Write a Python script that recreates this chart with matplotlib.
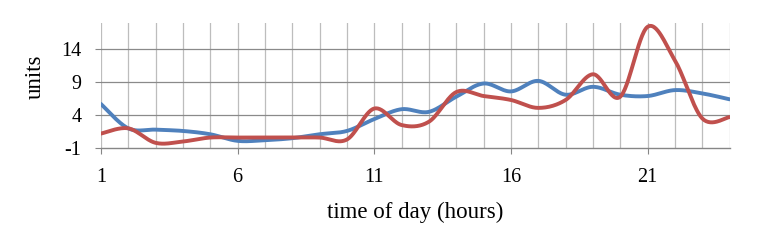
import numpy as np
import matplotlib
matplotlib.use("Agg")
import matplotlib.pyplot as plt

hours = list(range(1, 25))
series_blue = [5.7, 2.0, 1.8, 1.6, 1.1, 0.1, 0.2, 0.5, 1.1, 1.6, 3.4, 4.9, 4.5, 6.8, 8.8, 7.6,
               9.2, 7.1, 8.3, 7.1, 6.9, 7.8, 7.3, 6.4]
series_red = [1.2, 2.0, -0.2, 0.0, 0.6, 0.6, 0.6, 0.6, 0.6, 0.3, 5.0, 2.5, 3.0, 7.5, 6.9, 6.3,
              5.1, 6.3, 10.2, 6.8, 17.4, 12.3, 3.5, 3.7]
x_ticks = [1, 6, 11, 16, 21]
y_ticks = [-1, 4, 9, 14]


def smooth(xs, ys, n=30):
    # Catmull-Rom style smoothing through data points (like Excel smoothed lines)
    xs = np.asarray(xs, float)
    ys = np.asarray(ys, float)
    px = np.concatenate([[xs[0]], xs, [xs[-1]]])
    py = np.concatenate([[ys[0]], ys, [ys[-1]]])
    ox, oy = [], []
    for i in range(1, len(px) - 2):
        p0 = np.array([px[i], py[i]])
        p3 = np.array([px[i + 1], py[i + 1]])
        c1 = p0 + (np.array([px[i + 1], py[i + 1]]) - np.array([px[i - 1], py[i - 1]])) / 6
        c2 = p3 - (np.array([px[i + 2], py[i + 2]]) - np.array([px[i], py[i]])) / 6
        t = np.linspace(0, 1, n, endpoint=False)[:, None]
        pts = ((1 - t) ** 3) * p0 + 3 * ((1 - t) ** 2) * t * c1 + 3 * (1 - t) * t ** 2 * c2 + t ** 3 * p3
        ox.extend(pts[:, 0]); oy.extend(pts[:, 1])
    ox.append(xs[-1]); oy.append(ys[-1])
    return np.array(ox), np.array(oy)


plt.rcParams['font.family'] = ['Liberation Serif', 'DejaVu Serif']
plt.rcParams['axes.unicode_minus'] = False

fig = plt.figure(figsize=(7.64, 2.46), dpi=100)
ax = fig.add_axes([0.132, 0.398, 0.823, 0.509])

for xv in hours:
    ax.axvline(xv, color='#bdbdbd', lw=0.9, zorder=1)
for yv in y_ticks[1:]:
    ax.axhline(yv, color='#8a8a8a', lw=0.9, zorder=1)

bx, by = smooth(hours, series_blue)
rx, ry = smooth(hours, series_red)
ax.plot(bx, by, color='#4F81BD', lw=2.8, zorder=3, solid_capstyle='round')
ax.plot(rx, ry, color='#C0504D', lw=2.8, zorder=4, solid_capstyle='round')

ax.set_xlim(1, 24)
ax.set_ylim(-1, 18)
ax.set_xticks(x_ticks)
ax.set_yticks(y_ticks)
for s in ['top', 'right', 'left']:
    ax.spines[s].set_visible(False)
ax.spines['bottom'].set_color('#868686')
ax.spines['bottom'].set_linewidth(1.0)
ax.tick_params(axis='x', length=4, color='#868686', pad=10, labelsize=14.5)
ax.tick_params(axis='y', length=4, color='#868686', pad=10, labelsize=14.5)
ax.set_xlabel('time of day (hours)', fontsize=16.5, labelpad=11)
ax.set_ylabel('units', fontsize=16.5)
ax.yaxis.set_label_coords(-0.087, 0.57)

fig.savefig('out.png', dpi=100)
